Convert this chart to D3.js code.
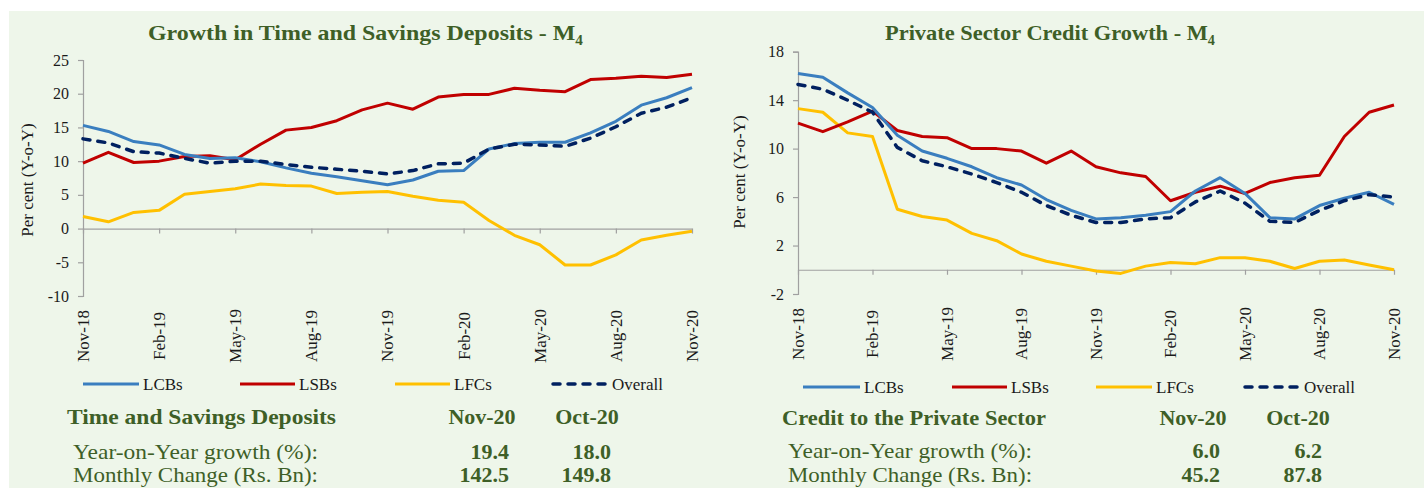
<!DOCTYPE html>
<html>
<head>
<meta charset="utf-8">
<script src="https://cdn.jsdelivr.net/npm/d3@7"></script>
<style>
  html, body { margin: 0; padding: 0; background: #ffffff; }
  svg { display: block; }
  text { font-family: "Liberation Serif", "Times New Roman", serif; }
</style>
</head>
<body>
<svg id="chart" width="1424" height="488"></svg>
<script>
// ---------------- DATA ----------------
const months = ["Nov-18","Dec-18","Jan-19","Feb-19","Mar-19","Apr-19","May-19","Jun-19","Jul-19","Aug-19","Sep-19","Oct-19",
                "Nov-19","Dec-19","Jan-20","Feb-20","Mar-20","Apr-20","May-20","Jun-20","Jul-20","Aug-20","Sep-20","Oct-20","Nov-20"];
const tickLabels = ["Nov-18","Feb-19","May-19","Aug-19","Nov-19","Feb-20","May-20","Aug-20","Nov-20"];
const seriesNames = ["LCBs","LSBs","LFCs","Overall"];

// Growth in Time and Savings Deposits (% y-o-y)
const depLCB = [15.3,14.4,12.9,12.4,11.0,10.4,10.5,9.9,9.0,8.2,7.7,7.1,6.5,7.2,8.5,8.6,11.8,12.6,12.8,12.8,14.2,15.9,18.3,19.4,20.9];
const depLSB = [9.7,11.3,9.8,10.0,10.7,10.8,10.2,12.5,14.6,15.0,16.0,17.6,18.6,17.7,19.5,19.9,19.9,20.8,20.5,20.3,22.1,22.3,22.6,22.4,22.9];
const depLFC = [1.8,1.0,2.4,2.7,5.1,5.5,5.9,6.6,6.4,6.3,5.2,5.4,5.5,4.8,4.2,3.9,1.2,-1.0,-2.4,-5.4,-5.4,-3.9,-1.7,-1.0,-0.4];
const depAll = [13.3,12.7,11.4,11.2,10.4,9.7,10.0,10.0,9.5,9.1,8.8,8.5,8.1,8.6,9.6,9.7,11.8,12.5,12.4,12.2,13.4,15.1,17.1,18.0,19.4];
const depTicks = [-10,-5,0,5,10,15,20,25];

// Private Sector Credit Growth (% y-o-y)
const crLCB = [16.2,15.9,14.6,13.4,11.1,9.8,9.2,8.5,7.6,7.0,5.8,4.9,4.2,4.3,4.5,4.8,6.5,7.6,6.3,4.3,4.2,5.3,5.9,6.4,5.4];
const crLSB = [12.1,11.4,12.2,13.1,11.5,11.0,10.9,10.0,10.0,9.8,8.8,9.8,8.5,8.0,7.7,5.7,6.4,6.9,6.3,7.2,7.6,7.8,11.0,13.0,13.6];
const crLFC = [13.3,13.0,11.3,11.0,5.0,4.4,4.1,3.0,2.4,1.3,0.7,0.3,-0.1,-0.3,0.3,0.6,0.5,1.0,1.0,0.7,0.1,0.7,0.8,0.4,0.0];
const crAll = [15.3,14.9,14.0,13.0,10.1,9.0,8.5,7.9,7.2,6.4,5.3,4.5,3.9,3.9,4.2,4.3,5.6,6.5,5.5,4.0,3.9,4.9,5.7,6.2,6.0];
const crTicks = [-2,2,6,10,14,18];

// Summary tables
const tableCols = ["Nov-20","Oct-20"];
const tableRows = ["Year-on-Year growth (%):","Monthly Change (Rs. Bn):"];
const depTableVals = [["19.4","18.0"],["142.5","149.8"]];
const crTableVals = [["6.0","6.2"],["45.2","87.8"]];

// ---------------- STYLE ----------------
const colors = {LCBs:"#3a7ebf", LSBs:"#c00000", LFCs:"#ffc000", Overall:"#002060"};
const green = "#3e5f27";
const axisColor = "#a0a0a0";
const tickText = "#1a1a1a";

const svg = d3.select("#chart");
svg.append("rect").attr("x",9).attr("y",11).attr("width",1415).attr("height",477).attr("fill","#eef6ea");

function panel(cfg) {
  const g = svg.append("g");
  const x = d3.scalePoint().domain(months).range([cfg.x0, cfg.x1]);
  const y = d3.scaleLinear().domain(cfg.yDomain).range([cfg.yBottom, cfg.yTop]);

  // title
  const t = g.append("text").attr("x", cfg.titleX).attr("y", 40)
    .attr("textLength", cfg.titleW).attr("lengthAdjust","spacingAndGlyphs")
    .attr("fill", green).attr("font-weight","bold").attr("font-size", 22);
  t.append("tspan").text(cfg.title);
  t.append("tspan").attr("font-size",14).attr("dy",5).text("4");

  // y axis
  const ya = g.append("g").attr("transform", `translate(${cfg.x0},0)`)
    .call(d3.axisLeft(y).tickValues(cfg.ticks).tickSize(5).tickPadding(9).tickFormat(d => String(d)));
  ya.select(".domain").attr("stroke", axisColor).attr("stroke-width",1.2);
  ya.selectAll(".tick line").attr("stroke", axisColor).attr("stroke-width",1.2);
  ya.selectAll(".tick text").attr("fill", tickText).attr("font-size",16)
    .attr("font-family","Liberation Serif");

  // x axis on zero line
  const xa = g.append("g").attr("transform", `translate(0,${y(0)})`)
    .call(d3.axisBottom(x).tickValues(tickLabels).tickSize(5).tickSizeOuter(0).tickFormat(""));
  xa.select(".domain").attr("stroke", axisColor).attr("stroke-width",1.2);
  xa.selectAll(".tick line").attr("stroke", axisColor).attr("stroke-width",1.2);

  // x tick labels below plot
  g.selectAll(".xl").data(tickLabels).enter().append("text")
    .attr("transform", d => `translate(${x(d)},${cfg.xLabelY}) rotate(-90)`)
    .attr("text-anchor","middle").attr("dy","0.35em")
    .attr("font-size",17).attr("fill", tickText).text(d => d);

  // y title
  g.append("text").attr("transform", `translate(${cfg.yTitleX},${cfg.yTitleY}) rotate(-90)`)
    .attr("text-anchor","middle").attr("dy","0.35em").attr("font-size",17).attr("fill", tickText)
    .text("Per cent (Y-o-Y)");

  // lines
  const line = d3.line().x((d,i) => x(months[i])).y(d => y(d));
  const order = ["LFCs","LSBs","LCBs","Overall"];
  order.forEach(name => {
    const p = g.append("path").datum(cfg.series[name]).attr("d", line).attr("fill","none")
      .attr("stroke", colors[name]).attr("stroke-linejoin","round");
    if (name === "Overall") p.attr("stroke-width",3.5).attr("stroke-dasharray","7,8").attr("stroke-linecap","round");
    else p.attr("stroke-width",3);
  });

  // legend
  seriesNames.forEach((name,i) => {
    const [a,b] = cfg.legendX[i];
    const l = g.append("line").attr("x1",a).attr("x2",b).attr("y1",cfg.legendY).attr("y2",cfg.legendY)
      .attr("stroke", colors[name]);
    if (name === "Overall") l.attr("stroke-width",3.5).attr("stroke-dasharray","7,8").attr("stroke-linecap","round").attr("x1",a+2);
    else l.attr("stroke-width",3);
    g.append("text").attr("x", b+4).attr("y", cfg.legendY).attr("dy","0.35em").attr("font-size",17)
      .attr("fill", tickText).text(name);
  });

  // table
  const tb = cfg.table;
  g.append("text").attr("x", tb.headX).attr("y", tb.headY).attr("font-size",22).attr("font-weight","bold")
    .attr("textLength", tb.headW).attr("lengthAdjust","spacingAndGlyphs")
    .attr("fill", green).text(tb.head);
  tableCols.forEach((c,j) => {
    g.append("text").attr("x", tb.colX[j]).attr("y", tb.headY).attr("text-anchor","middle")
      .attr("font-size",22).attr("font-weight","bold").attr("fill", green).text(c);
  });
  tableRows.forEach((r,i) => {
    g.append("text").attr("x", tb.rowX).attr("y", tb.rowY[i]).attr("font-size",22)
      .attr("textLength", tb.rowW).attr("lengthAdjust","spacingAndGlyphs")
      .attr("fill", green).text(r);
    tb.vals[i].forEach((v,j) => {
      g.append("text").attr("x", tb.valX[j]).attr("y", tb.rowY[i]).attr("text-anchor","end")
        .attr("font-size",22).attr("font-weight","bold").attr("fill", green).text(v);
    });
  });
}

panel({
  title: "Growth in Time and Savings Deposits - M", titleX: 148, titleW: 435,
  x0: 83, x1: 692, yDomain: [-10,25], yBottom: 296, yTop: 60, ticks: depTicks,
  xLabelY: 336, yTitleX: 27, yTitleY: 180,
  series: {LCBs: depLCB, LSBs: depLSB, LFCs: depLFC, Overall: depAll},
  legendY: 384, legendX: [[83,139],[240,295],[395,450],[551,608]],
  table: {head: "Time and Savings Deposits", headX: 67, headW: 269, headY: 424, colX: [482,587],
          rowX: 73, rowW: 245, rowY: [459,482], valX: [509,611], vals: depTableVals}
});

panel({
  title: "Private Sector Credit Growth - M", titleX: 885, titleW: 330,
  x0: 798, x1: 1394, yDomain: [-2,18], yBottom: 294, yTop: 51.7, ticks: crTicks,
  xLabelY: 334, yTitleX: 739, yTitleY: 172,
  series: {LCBs: crLCB, LSBs: crLSB, LFCs: crLFC, Overall: crAll},
  legendY: 387, legendX: [[803,860],[952,1007],[1096,1152],[1243,1300]],
  table: {head: "Credit to the Private Sector", headX: 782, headW: 264, headY: 425, colX: [1193,1298],
          rowX: 788, rowW: 244, rowY: [458,482], valX: [1220,1322], vals: crTableVals}
});
</script>
</body>
</html>
